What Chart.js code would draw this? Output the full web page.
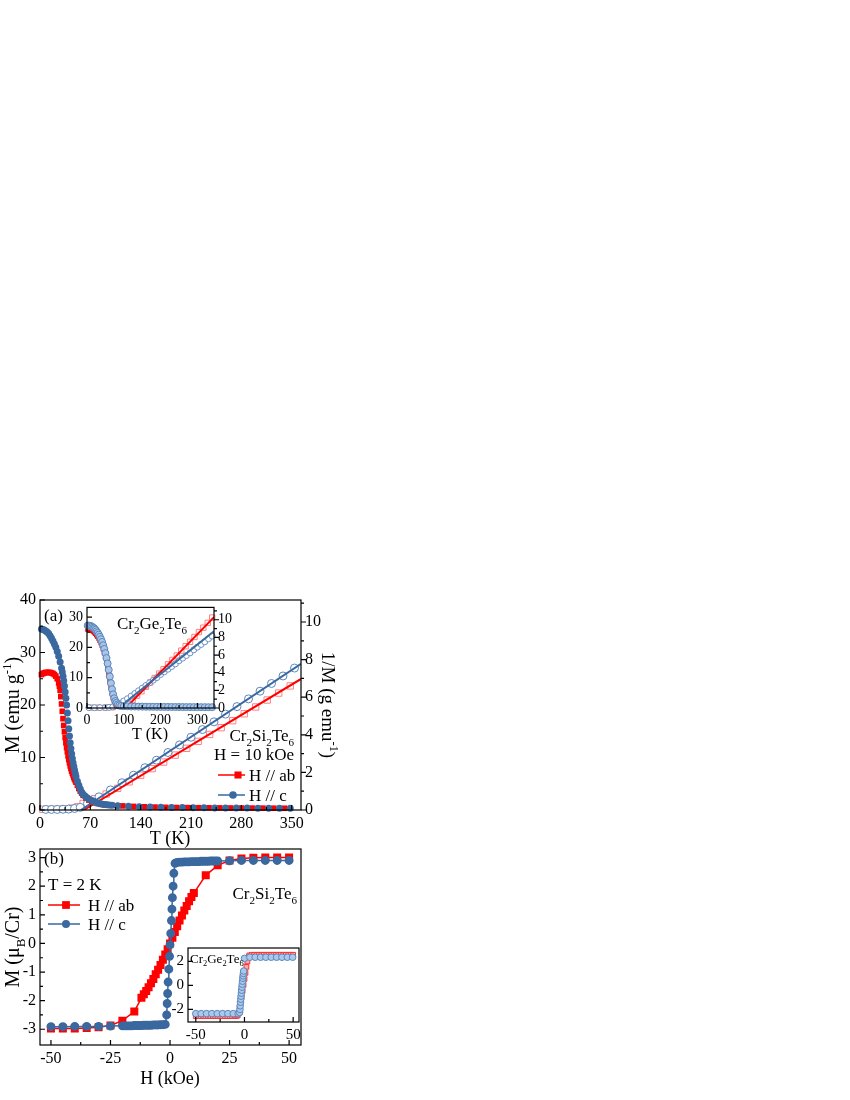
<!DOCTYPE html>
<html lang="en">
<head>
<meta charset="UTF-8">
<title>Cr2Si2Te6 magnetization</title>
<script src="https://cdn.jsdelivr.net/npm/chart.js"></script>
<style>
  body { margin: 0; background: #fff; width: 850px; height: 1100px; position: relative; overflow: hidden; }
  canvas { position: absolute; }
  #mainA { left: 0; top: 560px; }
  #insetA { left: 60px; top: 595px; }
  #mainB { left: 0; top: 830px; }
  #insetB { left: 160px; top: 935px; }
</style>
</head>
<body>
<canvas id="mainA" width="345" height="300"></canvas>
<canvas id="insetA" width="185" height="150"></canvas>
<canvas id="mainB" width="345" height="270"></canvas>
<canvas id="insetB" width="160" height="110"></canvas>

<script>
// ---- (a) Cr2Si2Te6, M(T) at H = 10 kOe ----
const tAbM = [2,4,6,8,10,12,14,16,18,20,22,24,26,27,28,29,30,31,32,33,34,35,36,37,38,39,40,41,42,43,44,45,46,47,48,49,50,52,54,56,58,60,64,68,72,76,80,85,90,95,100,115,130,145,160,175,190,205,220,235,250,265,280,295,310,325,340];
const mAb = [25.8,26.0,26.1,26.2,26.2,26.2,26.2,26.1,26.0,25.8,25.5,25.0,24.2,23.6,22.8,21.6,20.2,18.8,17.4,16.1,14.9,13.8,12.8,11.9,11.1,10.3,9.6,9.0,8.4,7.9,7.4,7.0,6.6,6.2,5.9,5.6,5.3,4.7,4.1,3.6,3.2,2.8,2.3,1.9,1.6,1.4,1.25,1.1,1.0,0.95,0.9,0.78,0.68,0.6,0.55,0.5,0.47,0.45,0.43,0.41,0.4,0.38,0.37,0.36,0.35,0.34,0.33];
const tCM = [2,4,6,8,10,12,14,16,18,20,22,24,26,28,30,31,32,33,34,35,36,37,38,39,40,41,42,43,44,45,46,47,48,49,50,52,54,56,58,60,63,66,69,72,75,78,81,84,87,90,93,96,100,108,123,138,153,168,183,198,213,228,243,258,273,288,303,318,333,348];
const mC = [34.5,34.4,34.3,34.1,33.9,33.6,33.2,32.7,32.2,31.6,31.0,30.2,29.3,28.2,27.0,26.3,25.5,24.6,23.6,22.5,21.3,20.0,18.5,17.0,15.5,14.1,12.8,11.7,10.7,9.8,9.0,8.3,7.6,7.0,6.4,5.5,4.7,4.0,3.4,3.0,2.6,2.3,2.0,1.8,1.6,1.45,1.3,1.2,1.1,1.05,1.0,0.95,0.9,0.82,0.72,0.64,0.58,0.53,0.49,0.46,0.44,0.42,0.4,0.38,0.37,0.36,0.35,0.34,0.33,0.32];
// 1/M (right axis)
const tInvAb = [4,12,20,28,36,44,52,60,76,92,108,124,140,156,172,188,204,220,236,252,268,284,300,316,332,348];
const invAb = [0.04,0.04,0.04,0.04,0.06,0.1,0.17,0.35,0.6,0.85,1.15,1.5,1.85,2.2,2.55,2.92,3.28,3.65,4.02,4.38,4.75,5.12,5.48,5.85,6.22,6.6];
const tInvC = [8,16,24,32,40,48,56,66,82,98,114,130,146,162,178,194,210,226,242,258,274,290,306,322,338,354];
const invC = [0.03,0.03,0.03,0.04,0.05,0.08,0.14,0.35,0.7,1.07,1.45,1.85,2.25,2.65,3.06,3.46,3.87,4.28,4.69,5.1,5.5,5.91,6.32,6.73,7.13,7.55];
// Curie-Weiss fit lines (end points)
const fitAbT = [61, 363], fitAbY = [0, 6.97];
const fitCT = [57, 363], fitCY = [0, 7.77];

// ---- (a) inset, Cr2Ge2Te6 ----
const tGe = [2,5,8,11,14,17,20,23,26,29,32,35,38,41,44,47,50,53,56,59,62,65,68,71,74,77,80,84,88,93,100,110,120,130,140,150,160,170,180,190,200,210,220,230,240,250,260,270,280,290,300,310,320,330,340];
const mGeC = [27.2,27.2,27.1,27.0,26.8,26.5,26.2,25.8,25.3,24.8,24.2,23.5,22.7,21.8,20.7,19.5,18.1,16.5,14.7,12.6,10.4,8.2,6.2,4.5,3.2,2.3,1.7,1.2,0.9,0.7,0.6,0.55,0.5,0.48,0.46,0.44,0.42,0.4,0.39,0.38,0.37,0.36,0.35,0.34,0.33,0.32,0.31,0.3,0.3,0.29,0.29,0.28,0.28,0.27,0.27];
const tGeAbM = [2,5,8,11,14,17,20,23,26,29,32,35,38,41,44,47,50,53,56,59,62,65,68,71,74,77,80,84,88,93,100];
const mGeAb = [26.0,26.0,25.9,25.8,25.6,25.3,25.0,24.6,24.1,23.6,23.0,22.3,21.5,20.6,19.5,18.2,16.8,15.1,13.2,11.1,8.9,6.8,4.9,3.4,2.3,1.6,1.1,0.8,0.6,0.5,0.45];
const tGeInvAb = [10,30,50,70,90,100,112,124,136,148,160,172,184,196,208,220,232,244,256,268,280,292,304,316,328,340];
const invGeAb = [0.04,0.04,0.05,0.1,0.2,0.25,0.5,0.9,1.4,1.9,2.4,2.9,3.4,3.9,4.4,4.95,5.45,5.95,6.5,7.0,7.5,8.05,8.6,9.1,9.65,10.25];
const tGeInvC = [5,20,35,50,60,70,80,90,100,110,120,130,140,150,160,170,180,190,200,210,220,230,240,250,260,270,280,290,300,310,320,330,340];
const invGeC = [0.04,0.04,0.04,0.05,0.07,0.12,0.3,0.55,0.8,1.05,1.35,1.65,1.95,2.25,2.55,2.85,3.15,3.45,3.8,4.1,4.4,4.7,5.0,5.35,5.65,5.95,6.25,6.6,6.9,7.2,7.5,7.85,8.15];
const fitGeAbT = [105, 345], fitGeAbY = [0, 10.3];
const fitGeCT = [85, 345], fitGeCY = [0, 8.7];

// ---- (b) Cr2Si2Te6, M(H) at T = 2 K ----
const hAb = [-50,-45,-40,-35,-30,-25,-20,-15,-12,-11,-10,-9,-8,-7,-6,-5,-4,-3,-2,-1,0,1,2,3,4,5,6,7,8,9,10,15,20,25,30,35,40,45,50];
const mHAb = [-2.97,-2.97,-2.97,-2.96,-2.93,-2.87,-2.7,-2.38,-1.9,-1.78,-1.66,-1.53,-1.39,-1.24,-1.08,-0.92,-0.75,-0.57,-0.39,-0.2,0,0.2,0.4,0.6,0.8,0.98,1.15,1.31,1.47,1.62,1.76,2.38,2.73,2.9,2.97,2.99,3.0,3.0,3.0];
const hC = [-50,-45,-40,-35,-30,-25,-20,-19,-18,-17,-16,-15,-14,-13,-12,-11,-10,-9,-8,-7,-6,-5,-4,-3,-2,-1.4,-1.2,-1.0,-0.8,-0.5,-0.2,0,0.3,0.6,0.8,1.0,1.3,1.6,2.1,3,4,5,6,7,8,9,10,11,12,13,14,15,16,17,18,19,20,25,30,35,40,45,50];
const mHC = [-2.91,-2.91,-2.9,-2.9,-2.9,-2.89,-2.88,-2.88,-2.88,-2.88,-2.88,-2.87,-2.87,-2.87,-2.87,-2.86,-2.86,-2.86,-2.86,-2.85,-2.85,-2.85,-2.84,-2.84,-2.83,-2.5,-2.1,-1.75,-1.35,-0.9,-0.45,-0.05,0.35,0.8,1.2,1.6,2.0,2.45,2.8,2.83,2.84,2.84,2.85,2.85,2.85,2.86,2.86,2.86,2.86,2.87,2.87,2.87,2.87,2.88,2.88,2.88,2.88,2.89,2.9,2.9,2.9,2.9,2.9];
// (b) inset, Cr2Ge2Te6
const hGeAb = [-50,-47.5,-45,-42.5,-40,-37.5,-35,-32.5,-30,-27.5,-25,-22.5,-20,-17.5,-15,-12.5,-10,-8.5,-7,-6,-5,-4,-3,-2,-1,0,1,2,3,4,5,7.5,10,12.5,15,17.5,20,22.5,25,27.5,30,32.5,35,37.5,40,42.5,45,47.5,50];
const mGeHAb = [-2.55,-2.55,-2.55,-2.55,-2.55,-2.55,-2.55,-2.55,-2.55,-2.55,-2.55,-2.55,-2.55,-2.55,-2.55,-2.55,-2.55,-2.55,-2.5,-2.3,-1.9,-1.45,-0.95,-0.45,0.05,0.55,1.05,1.55,2.0,2.35,2.5,2.55,2.55,2.55,2.55,2.55,2.55,2.55,2.55,2.55,2.55,2.55,2.55,2.55,2.55,2.55,2.55,2.55,2.55];
const hGeC = [-50,-44.5,-39,-33.5,-28,-22.5,-17,-11.5,-6.5,-5,-4.6,-4.4,-4.1,-3.8,-3.5,-3.2,-2.9,-2.6,-2.3,-2.0,-1.7,-1.4,-1.1,-0.8,0,5.5,11,16.5,22,27.5,33,38.5,44,49.5];
const mGeHC = [-2.35,-2.35,-2.35,-2.35,-2.35,-2.35,-2.35,-2.35,-2.35,-2.25,-2.0,-1.7,-1.4,-1.15,-0.9,-0.65,-0.4,-0.15,0.1,0.35,0.6,0.8,1.0,1.2,2.25,2.35,2.35,2.35,2.35,2.35,2.35,2.35,2.35,2.35];

// tick labels
const tTicksA = [0,70,140,210,280,350];
const mTicksA = [0,10,20,30,40];
const invTicksA = [0,2,4,6,8,10];
const tTicksIn = [0,100,200,300];
const mTicksIn = [0,10,20,30];
const invTicksIn = [0,2,4,6,8,10];
const hTicksB = [-50,-25,0,25,50];
const mTicksB = [-3,-2,-1,0,1,2,3];
const hTicksIn = [-50,0,50];
const mTicksInB = [-2,0,2];

const SERIF = '"Liberation Serif", "Times New Roman", serif';
const RED = '#ff0000';
const BLUE = '#3a689f';

function pts(xs, ys) { return xs.map((x, i) => ({ x: x, y: ys[i] })); }
function mids(arr) {
  const m = [];
  for (let i = 0; i < arr.length - 1; i++) m.push((arr[i] + arr[i + 1]) / 2);
  return m;
}

// text with sub/superscripts; parts = ['txt', ['2','sub'], ...]
function rich(ctx, parts, x, y, size, align, angle) {
  ctx.save();
  ctx.translate(x, y);
  ctx.rotate(angle || 0);
  const pieces = parts.map(p => {
    const txt = Array.isArray(p) ? p[0] : p;
    const mode = Array.isArray(p) ? p[1] : '';
    const s = mode ? size * 0.65 : size;
    ctx.font = s + 'px ' + SERIF;
    return { txt, mode, s, w: ctx.measureText(txt).width };
  });
  const total = pieces.reduce((a, p) => a + p.w, 0);
  let cx = align === 'center' ? -total / 2 : align === 'right' ? -total : 0;
  ctx.fillStyle = '#000';
  ctx.textAlign = 'left';
  ctx.textBaseline = 'alphabetic';
  const base = size * 0.35;
  pieces.forEach(p => {
    ctx.font = p.s + 'px ' + SERIF;
    const dy = p.mode === 'sub' ? size * 0.28 : p.mode === 'sup' ? -size * 0.4 : 0;
    ctx.fillText(p.txt, cx, base + dy);
    cx += p.w;
  });
  ctx.restore();
}

function tickMarks(chart, id, values, len, out) {
  const ctx = chart.ctx, s = chart.scales[id], a = chart.chartArea;
  ctx.beginPath();
  values.forEach(v => {
    if (v < s.min || v > s.max) return;
    const p = s.getPixelForValue(v);
    if (s.isHorizontal()) { ctx.moveTo(p, a.bottom); ctx.lineTo(p, a.bottom + (out ? len : -len)); }
    else if (s.position === 'right') { ctx.moveTo(a.right, p); ctx.lineTo(a.right + (out ? len : -len), p); }
    else { ctx.moveTo(a.left, p); ctx.lineTo(a.left + (out ? -len : len), p); }
  });
  ctx.stroke();
}

// box, ticks and annotation text
function frame(spec) {
  return {
    id: 'frame',
    beforeDraw(chart) {
      if (!spec.white) return;
      const a = chart.chartArea, ctx = chart.ctx;
      ctx.save();
      ctx.fillStyle = '#fff';
      ctx.fillRect(a.left, a.top, a.right - a.left, a.bottom - a.top);
      ctx.restore();
    },
    afterDraw(chart) {
      const ctx = chart.ctx, a = chart.chartArea;
      ctx.save();
      ctx.strokeStyle = '#000';
      ctx.lineWidth = 1.2;
      ctx.strokeRect(a.left, a.top, a.right - a.left, a.bottom - a.top);
      spec.ticks.forEach(t => {
        tickMarks(chart, t.id, t.major, 5, t.out);
        tickMarks(chart, t.id, mids(t.major).concat(t.extra || []), 3, t.out);
      });
      spec.text(ctx, a);
      ctx.restore();
    }
  };
}

function axis(min, max, ticks, pos, size, fit) {
  return {
    type: 'linear', position: pos, min: min, max: max,
    grid: { display: false, drawTicks: false },
    border: { display: false },
    afterBuildTicks: s => { s.ticks = ticks.map(v => ({ value: v })); },
    afterFit: s => { if (s.isHorizontal()) s.height = fit; else s.width = fit; },
    ticks: { font: { family: SERIF, size: size }, color: '#000', padding: 4, maxRotation: 0, autoSkip: false, callback: v => String(v) }
  };
}

function marks(xs, ys, o) {
  return Object.assign({
    data: pts(xs, ys), showLine: false, borderWidth: 0, clip: false
  }, o);
}

function baseOptions(padding, scales) {
  return {
    responsive: false, animation: false, events: [],
    layout: { padding: padding },
    plugins: { legend: { display: false }, tooltip: { enabled: false } },
    scales: scales
  };
}

// legend sample drawn with the chart's own look
function legendSample(ctx, x1, x2, y, color, style, mx, r, label, lx) {
  ctx.strokeStyle = color;
  ctx.lineWidth = 1.5;
  ctx.beginPath(); ctx.moveTo(x1, y); ctx.lineTo(x2, y); ctx.stroke();
  ctx.fillStyle = color;
  ctx.beginPath();
  if (style === 'rect') { const s = r * Math.SQRT1_2; ctx.rect(mx - s, y - s, 2 * s, 2 * s); }
  else ctx.arc(mx, y, r, 0, Math.PI * 2);
  ctx.fill();
  rich(ctx, [label], lx, y, 17, 'left');
}

// ---------- panel (a) ----------
new Chart(document.getElementById('mainA'), {
  type: 'scatter',
  data: { datasets: [
    marks(tCM, mC, { pointStyle: 'circle', pointRadius: 3.5, backgroundColor: BLUE, borderColor: BLUE, yAxisID: 'y', order: 0 }),
    marks(tAbM, mAb, { pointStyle: 'rect', pointRadius: 4, backgroundColor: RED, borderColor: RED, yAxisID: 'y', order: 1 }),
    { data: pts(fitCT, fitCY), showLine: true, pointRadius: 0, borderColor: BLUE, borderWidth: 2, yAxisID: 'y2', order: 2 },
    { data: pts(fitAbT, fitAbY), showLine: true, pointRadius: 0, borderColor: RED, borderWidth: 2, yAxisID: 'y2', order: 3 },
    marks(tInvC, invC, { pointStyle: 'circle', pointRadius: 4, backgroundColor: '#fff', borderColor: '#5a87bd', borderWidth: 1, yAxisID: 'y2', order: 4 }),
    marks(tInvAb, invAb, { pointStyle: 'rect', pointRadius: 4.5, backgroundColor: '#fff', borderColor: '#ff8080', borderWidth: 1, yAxisID: 'y2', order: 5 })
  ]},
  options: baseOptions({ top: 40, left: 0, right: 0, bottom: 0 }, {
    x: axis(0, 363, tTicksA, 'bottom', 16, 50),
    y: axis(0, 40, mTicksA, 'left', 16, 40),
    y2: axis(0, 11.17, invTicksA, 'right', 16, 44)
  }),
  plugins: [frame({
    ticks: [
      { id: 'x', major: tTicksA },
      { id: 'y', major: mTicksA },
      { id: 'y2', major: invTicksA, out: true, extra: [11] }
    ],
    text: (ctx, a) => {
      const my = (a.top + a.bottom) / 2;
      rich(ctx, ['(a)'], a.left + 4, 55, 17, 'left');
      rich(ctx, ['M (emu g', ['-1', 'sup'], ')'], 12, my, 20, 'center', -Math.PI / 2);
      rich(ctx, ['T (K)'], 170, 278, 18, 'center');
      rich(ctx, ['1/M (g emu', ['-1', 'sup'], ')'], 329, my, 19, 'center', Math.PI / 2);
      rich(ctx, ['Cr', ['2', 'sub'], 'Si', ['2', 'sub'], 'Te', ['6', 'sub']], 294, 175, 17, 'right');
      rich(ctx, ['H = 10 kOe'], 294, 194, 17, 'right');
      legendSample(ctx, 218, 245, 215, RED, 'rect', 238, 5, 'H // ab', 249);
      legendSample(ctx, 218, 245, 235, BLUE, 'circle', 233, 3.8, 'H // c', 249);
    }
  })]
});

// ---------- inset of (a) ----------
new Chart(document.getElementById('insetA'), {
  type: 'scatter',
  data: { datasets: [
    marks(tGe, mGeC, { pointStyle: 'circle', pointRadius: 3.5, backgroundColor: '#a8c5e8', borderColor: '#5a86bc', borderWidth: 1, yAxisID: 'y', order: 0 }),
    marks(tGeAbM, mGeAb, { showLine: true, pointStyle: 'rect', pointRadius: 2.5, backgroundColor: '#ff9a9a', borderColor: RED, borderWidth: 1.5, yAxisID: 'y', order: 1 }),
    { data: pts(fitGeCT, fitGeCY), showLine: true, pointRadius: 0, borderColor: BLUE, borderWidth: 2, yAxisID: 'y2', order: 2 },
    { data: pts(fitGeAbT, fitGeAbY), showLine: true, pointRadius: 0, borderColor: RED, borderWidth: 2, yAxisID: 'y2', order: 3 },
    marks(tGeInvC, invGeC, { pointStyle: 'circle', pointRadius: 3, backgroundColor: '#fff', borderColor: '#6b93c6', borderWidth: 1, yAxisID: 'y2', order: 4 }),
    marks(tGeInvAb, invGeAb, { pointStyle: 'rect', pointRadius: 3.8, backgroundColor: '#fff', borderColor: '#ff8080', borderWidth: 1, yAxisID: 'y2', order: 5 })
  ]},
  options: baseOptions({ top: 10, left: 0, right: 0, bottom: 0 }, {
    x: axis(0, 345, tTicksIn, 'bottom', 14, 37),
    y: axis(0, 33.2, mTicksIn, 'left', 14, 27),
    y2: axis(0, 11.4, invTicksIn, 'right', 14, 31)
  }),
  plugins: [frame({
    white: true,
    ticks: [
      { id: 'x', major: tTicksIn },
      { id: 'y', major: mTicksIn },
      { id: 'y2', major: invTicksIn, out: true, extra: [11] }
    ],
    text: (ctx, a) => {
      rich(ctx, ['Cr', ['2', 'sub'], 'Ge', ['2', 'sub'], 'Te', ['6', 'sub']], 92, 28, 17, 'center');
      rich(ctx, ['T (K)'], 90, 138, 16, 'center');
    }
  })]
});

// ---------- panel (b) ----------
new Chart(document.getElementById('mainB'), {
  type: 'scatter',
  data: { datasets: [
    marks(hC, mHC, { showLine: true, pointStyle: 'circle', pointRadius: 3.7, backgroundColor: BLUE, borderColor: BLUE, borderWidth: 1.5, order: 0 }),
    marks(hAb, mHAb, { showLine: true, pointStyle: 'rect', pointRadius: 4.6, backgroundColor: RED, borderColor: RED, borderWidth: 1.5, order: 1 })
  ]},
  options: baseOptions({ top: 19, left: 0, right: 44, bottom: 0 }, {
    x: axis(-54.6, 55, hTicksB, 'bottom', 16, 55),
    y: axis(-3.55, 3.3, mTicksB, 'left', 16, 40)
  }),
  plugins: [frame({
    ticks: [
      { id: 'x', major: hTicksB },
      { id: 'y', major: mTicksB }
    ],
    text: (ctx, a) => {
      const my = (a.top + a.bottom) / 2;
      rich(ctx, ['(b)'], a.left + 4, 28, 17, 'left');
      rich(ctx, ['T = 2 K'], 48, 54, 17, 'left');
      legendSample(ctx, 48, 80, 75, RED, 'rect', 66, 5.5, 'H // ab', 88);
      legendSample(ctx, 48, 80, 94, BLUE, 'circle', 66, 4, 'H // c', 88);
      rich(ctx, ['Cr', ['2', 'sub'], 'Si', ['2', 'sub'], 'Te', ['6', 'sub']], 297, 63, 17, 'right');
      rich(ctx, ['M (\u03bc', ['B', 'sub'], '/Cr)'], 12, my, 20, 'center', -Math.PI / 2);
      rich(ctx, ['H (kOe)'], 170, 248, 18, 'center');
    }
  })]
});

// ---------- inset of (b) ----------
new Chart(document.getElementById('insetB'), {
  type: 'scatter',
  data: { datasets: [
    marks(hGeC, mGeHC, { pointStyle: 'circle', pointRadius: 3.3, backgroundColor: '#aac8ea', borderColor: '#5b87bd', borderWidth: 1, order: 0 }),
    marks(hGeAb, mGeHAb, { showLine: true, pointStyle: 'rect', pointRadius: 3.4, backgroundColor: '#ffaaaa', borderColor: '#ff3030', borderWidth: 1, order: 1 })
  ]},
  options: baseOptions({ top: 11, left: 0, right: 21, bottom: 0 }, {
    x: axis(-58, 56, hTicksIn, 'bottom', 15, 23),
    y: axis(-3.05, 3.12, mTicksInB, 'left', 15, 28)
  }),
  plugins: [frame({
    white: true,
    ticks: [
      { id: 'x', major: hTicksIn },
      { id: 'y', major: mTicksInB }
    ],
    text: (ctx, a) => {
      rich(ctx, ['Cr', ['2', 'sub'], 'Ge', ['2', 'sub'], 'Te', ['6', 'sub']], a.left + 2, 23, 13, 'left');
    }
  })]
});
</script>
</body>
</html>
